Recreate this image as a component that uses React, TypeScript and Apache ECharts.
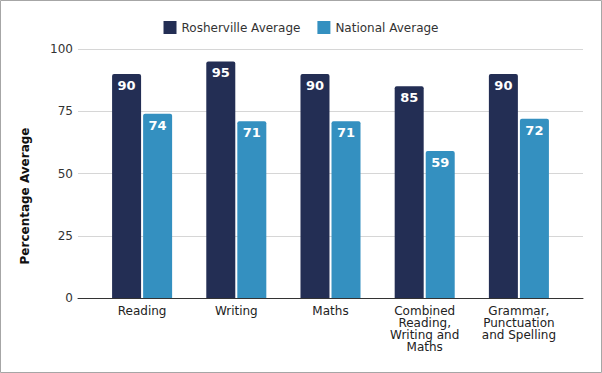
import React, { useEffect, useRef } from "react";
import * as echarts from "echarts";

const categories = [
  "Reading",
  "Writing",
  "Maths",
  "Combined\nReading,\nWriting and\nMaths",
  "Grammar,\nPunctuation\nand Spelling",
];
const rosherville = [90, 95, 90, 85, 90];
const national = [74, 71, 71, 59, 72];
const seriesNames = ["Rosherville Average", "National Average"];
const yAxisTitle = "Percentage Average";

const FONT = "DejaVu Sans";

export default function App() {
  const ref = useRef<HTMLDivElement>(null);
  useEffect(() => {
    if (!ref.current) return;
    const chart = echarts.init(ref.current, null, { renderer: "svg" });
    const label = {
      show: true,
      position: "insideTop",
      distance: 5,
      color: "#fff",
      fontWeight: "bold",
      fontSize: 13,
      fontFamily: FONT,
    };
    chart.setOption({
      animation: false,
      backgroundColor: "#fff",
      textStyle: { fontFamily: FONT },
      legend: {
        top: 16,
        left: "center",
        itemWidth: 13,
        itemHeight: 13,
        itemGap: 17,
        icon: "rect",
        textStyle: { fontSize: 12, color: "#333", fontFamily: FONT },
        data: seriesNames,
      },
      grid: [
        { left: 78, right: 19, top: 49, bottom: 75 },
        { left: 95, right: 36, top: 49, bottom: 75 },
      ],
      xAxis: [
        {
          gridIndex: 0,
          type: "category",
          data: [""],
          axisLine: { show: true, lineStyle: { color: "#333", width: 1 } },
          axisTick: { show: false },
          axisLabel: { show: false },
        },
        {
          gridIndex: 1,
          type: "category",
          data: categories,
          axisLine: { show: false },
          axisTick: { show: false },
          axisLabel: {
            color: "#222",
            fontSize: 12,
            lineHeight: 12,
            margin: 7,
            interval: 0,
            fontFamily: FONT,
          },
        },
      ],
      yAxis: [
        {
          gridIndex: 0,
          type: "value",
          min: 0,
          max: 100,
          interval: 25,
          axisLine: { show: false },
          axisTick: { show: false },
          splitLine: { lineStyle: { color: "#d6d6d6", width: 1 } },
          axisLabel: { color: "#333", fontSize: 12, margin: 5, fontFamily: FONT },
        },
        {
          gridIndex: 1,
          type: "value",
          min: 0,
          max: 100,
          interval: 25,
          show: false,
          splitLine: { show: false },
        },
      ],
      series: [
        {
          name: seriesNames[0],
          type: "bar",
          xAxisIndex: 1,
          yAxisIndex: 1,
          data: rosherville,
          barWidth: 29,
          barGap: "7%",
          itemStyle: { color: "#232e54", borderRadius: [2, 2, 0, 0] },
          label,
        },
        {
          name: seriesNames[1],
          type: "bar",
          xAxisIndex: 1,
          yAxisIndex: 1,
          data: national,
          barWidth: 29,
          barGap: "7%",
          itemStyle: { color: "#3490c0", borderRadius: [2, 2, 0, 0] },
          label,
        },
      ],
      graphic: [
        {
          type: "rect",
          silent: true,
          shape: { x: 0.5, y: 0.5, width: 601, height: 372 },
          style: { fill: "none", stroke: "#a6a6a6", lineWidth: 1 },
        },
        {
          type: "text",
          silent: true,
          x: 25,
          y: 196,
          rotation: Math.PI / 2,
          style: {
            text: yAxisTitle,
            fontFamily: FONT,
            fontSize: 12,
            fontWeight: "bold",
            fill: "#111",
            align: "center",
            verticalAlign: "middle",
          },
        },
      ],
    });
    return () => chart.dispose();
  }, []);
  return (
    <div
      ref={ref}
      style={{ position: "fixed", left: 0, top: 0, width: 602, height: 373 }}
    />
  );
}
